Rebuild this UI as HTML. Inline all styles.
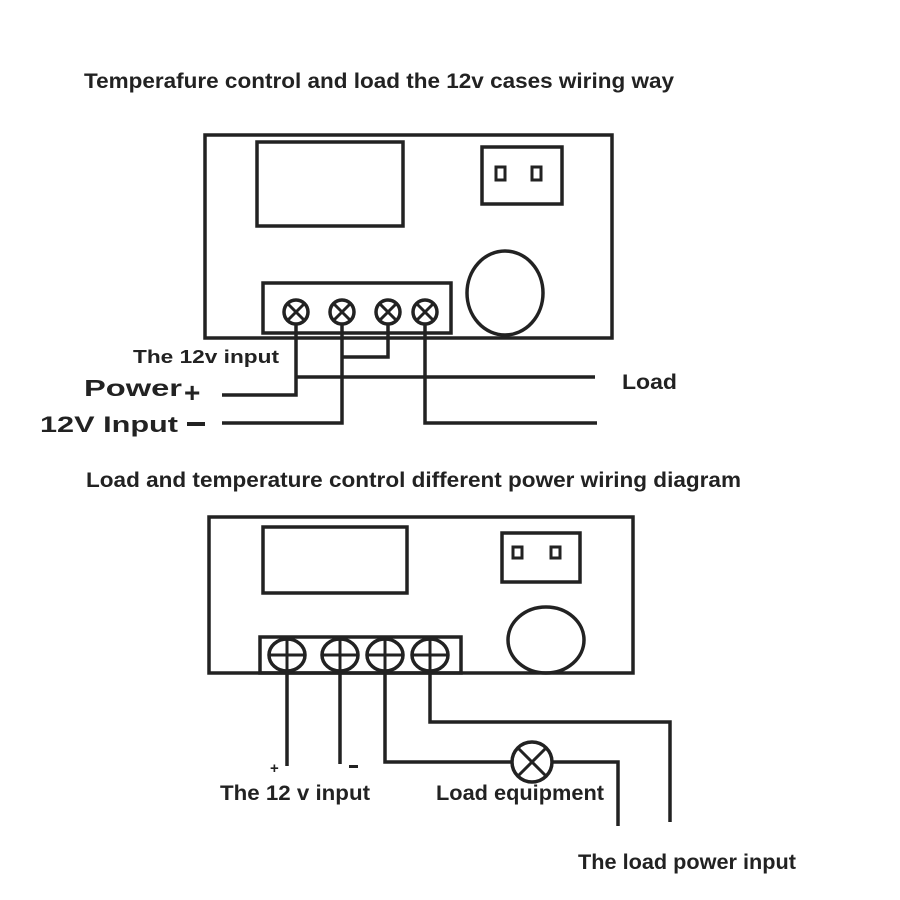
<!DOCTYPE html>
<html><head><meta charset="utf-8"><style>
html,body{margin:0;padding:0;background:#fff;}
svg{display:block;}
text{font-family:"Liberation Sans",sans-serif;font-weight:bold;fill:#222;}
</style></head><body>
<svg width="900" height="900" viewBox="0 0 900 900" xmlns="http://www.w3.org/2000/svg">
<g fill="none" stroke="#222" stroke-width="3.5">
<!-- top device -->
<rect x="205" y="135" width="407" height="203"/>
<rect x="257" y="142" width="146" height="84"/>
<rect x="482" y="147" width="80" height="57"/>
<rect x="496" y="167" width="9" height="13" stroke-width="3"/>
<rect x="532" y="167" width="9" height="13" stroke-width="3"/>
<ellipse cx="505" cy="293" rx="38" ry="42"/>
<rect x="263" y="283" width="188" height="50"/>
<!-- top wires -->
<polyline points="296,312 296,395 222,395"/>
<polyline points="342,312 342,423 222,423"/>
<polyline points="388,312 388,357 342,357"/>
<polyline points="296,377 595,377"/>
<polyline points="425,312 425,423 597,423"/>
<!-- bottom device -->
<rect x="209" y="517" width="424" height="156"/>
<rect x="263" y="527" width="144" height="66"/>
<rect x="502" y="533" width="78" height="49"/>
<rect x="513" y="547" width="9" height="11" stroke-width="3"/>
<rect x="551" y="547" width="9" height="11" stroke-width="3"/>
<ellipse cx="546" cy="640" rx="38" ry="33"/>
<rect x="260" y="637" width="201" height="36"/>
<polyline points="287,655 287,766"/>
<polyline points="340,655 340,764"/>
<polyline points="385,655 385,762 512,762"/>
<polyline points="552,762 618,762 618,826"/>
<polyline points="430,655 430,722 670,722 670,822"/>
</g>
<g fill="#fff" stroke="#222" stroke-width="3.5">
<circle cx="296" cy="312" r="12"/><circle cx="342" cy="312" r="12"/>
<circle cx="388" cy="312" r="12"/><circle cx="425" cy="312" r="12"/>
<ellipse cx="287" cy="655" rx="18" ry="16"/><ellipse cx="340" cy="655" rx="18" ry="16"/>
<ellipse cx="385" cy="655" rx="18" ry="16"/><ellipse cx="430" cy="655" rx="18" ry="16"/>
<circle cx="532" cy="762" r="20"/>
</g>
<g stroke="#222" stroke-width="3">
<path d="M288,304 L304,320 M304,304 L288,320 M334,304 L350,320 M350,304 L334,320 M380,304 L396,320 M396,304 L380,320 M417,304 L433,320 M433,304 L417,320"/>
<path d="M269,655 H305 M287,639 V671 M322,655 H358 M340,639 V671 M367,655 H403 M385,639 V671 M412,655 H448 M430,639 V671"/>
<path d="M518,748 L546,776 M546,748 L518,776"/>
</g>
<text x="84" y="88" font-size="21" textLength="590" lengthAdjust="spacingAndGlyphs">Temperafure control and load the 12v cases wiring way</text>
<text x="133" y="363" font-size="18" textLength="146" lengthAdjust="spacingAndGlyphs">The 12v  input</text>
<text x="84" y="396" font-size="23" textLength="98" lengthAdjust="spacingAndGlyphs">Power</text>
<text x="184" y="402" font-size="28" font-weight="normal">+</text>
<text x="40" y="432" font-size="22" textLength="138" lengthAdjust="spacingAndGlyphs">12V Input</text>
<rect x="187" y="422" width="18" height="4" fill="#222"/>
<text x="622" y="389" font-size="21" textLength="55" lengthAdjust="spacingAndGlyphs">Load</text>
<text x="86" y="487" font-size="21" textLength="655" lengthAdjust="spacingAndGlyphs">Load and temperature control different power wiring diagram</text>
<text x="270" y="773" font-size="15">+</text>
<rect x="349" y="765" width="9" height="3" fill="#222"/>
<text x="220" y="800" font-size="21" textLength="150" lengthAdjust="spacingAndGlyphs">The 12 v  input</text>
<text x="436" y="800" font-size="21" textLength="168" lengthAdjust="spacingAndGlyphs">Load equipment</text>
<text x="578" y="869" font-size="21" textLength="218" lengthAdjust="spacingAndGlyphs">The load power input</text>
</svg>
</body></html>
